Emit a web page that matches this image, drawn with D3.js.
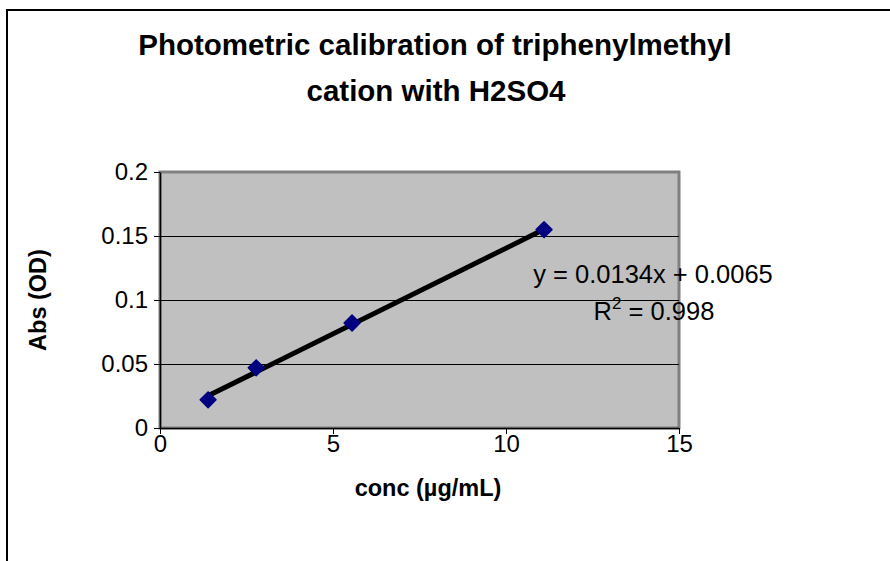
<!DOCTYPE html>
<html>
<head>
<meta charset="utf-8">
<script src="https://cdn.jsdelivr.net/npm/d3@7"></script>
<style>
  html, body { margin: 0; padding: 0; background: #fff; }
  svg { display: block; font-family: "Liberation Sans", Arial, sans-serif; }
</style>
</head>
<body>
<svg id="chart" width="890" height="561"></svg>
<script>
// Calibration measurements
const concentrations = [1.39, 2.78, 5.55, 11.1];
const absorbances = [0.022, 0.047, 0.082, 0.155];
const xTicks = [0, 5, 10, 15];
const yTicks = [0, 0.05, 0.1, 0.15, 0.2];
const gridValues = [0.05, 0.1, 0.15];
// Linear fit reported for the series
const slope = 0.0134;
const intercept = 0.0065;
const rSquared = "0.998";

const svg = d3.select("#chart");

// Outer chart frame
svg.append("rect")
  .attr("x", 7).attr("y", 10)
  .attr("width", 900).attr("height", 600)
  .attr("fill", "#fff").attr("stroke", "#000").attr("stroke-width", 2);

const plot = { left: 160, right: 679, top: 172, bottom: 428 };

const x = d3.scaleLinear().domain([0, 15]).range([plot.left, plot.right]);
const y = d3.scaleLinear().domain([0, 0.2]).range([plot.bottom, plot.top]);

// Plot area background and frame
svg.append("rect")
  .attr("x", plot.left).attr("y", plot.top)
  .attr("width", plot.right - plot.left).attr("height", plot.bottom - plot.top)
  .attr("fill", "#C0C0C0").attr("stroke", "#808080").attr("stroke-width", 3);

// Horizontal gridlines
svg.append("g").selectAll("line").data(gridValues).join("line")
  .attr("x1", plot.left).attr("x2", plot.right)
  .attr("y1", d => Math.round(y(d)) + 0.5).attr("y2", d => Math.round(y(d)) + 0.5)
  .attr("stroke", "#000").attr("stroke-width", 1);

// Axes
const yAxis = svg.append("g")
  .attr("transform", `translate(${plot.left},0)`)
  .call(d3.axisLeft(y).tickValues(yTicks).tickSize(6).tickSizeOuter(0).tickPadding(6)
    .tickFormat(d => d === 0 ? "0" : String(+d.toFixed(2))));
const xAxis = svg.append("g")
  .attr("transform", `translate(0,${plot.bottom})`)
  .call(d3.axisBottom(x).tickValues(xTicks).tickSize(6).tickSizeOuter(0).tickPadding(1));

[yAxis, xAxis].forEach(g => {
  g.select(".domain").attr("stroke", "#000").attr("stroke-width", 1.5);
  g.selectAll(".tick line").attr("stroke", "#000");
  g.selectAll("text").attr("font-size", 24).attr("fill", "#000")
    .attr("font-family", "Liberation Sans, Arial, sans-serif");
});

// Trendline across the measured range
const xMin = d3.min(concentrations), xMax = d3.max(concentrations);
svg.append("line")
  .attr("x1", x(xMin)).attr("y1", y(slope * xMin + intercept))
  .attr("x2", x(xMax)).attr("y2", y(slope * xMax + intercept))
  .attr("stroke", "#000").attr("stroke-width", 5);

// Data markers
const pts = concentrations.map((c, i) => ({ c, a: absorbances[i] }));
svg.append("g").selectAll("path").data(pts).join("path")
  .attr("transform", d => `translate(${x(d.c)},${y(d.a)})`)
  .attr("d", d3.symbol().type(d3.symbolDiamond2).size(160))
  .attr("fill", "#000080").attr("stroke", "#000080").attr("stroke-width", 1.5)
  .attr("stroke-linejoin", "round");

// Fit equation
svg.append("text")
  .attr("x", 653).attr("y", 283)
  .attr("text-anchor", "middle").attr("font-size", 25.5)
  .text(`y = ${slope}x + ${intercept}`);
const r2 = svg.append("text")
  .attr("x", 654).attr("y", 320)
  .attr("text-anchor", "middle").attr("font-size", 25.5);
r2.append("tspan").text("R");
r2.append("tspan").attr("dy", -11).attr("font-size", 17).text("2");
r2.append("tspan").attr("dy", 11).text(` = ${rSquared}`);

// Title
const title = svg.append("text")
  .attr("text-anchor", "middle").attr("font-size", 29.5).attr("font-weight", "bold");
title.append("tspan").attr("x", 435).attr("y", 55).text("Photometric calibration of triphenylmethyl");
title.append("tspan").attr("x", 436).attr("y", 101).text("cation with H2SO4");

// Axis titles
svg.append("text")
  .attr("transform", `translate(46,${(plot.top + plot.bottom) / 2}) rotate(-90)`)
  .attr("text-anchor", "middle").attr("font-size", 23.5).attr("font-weight", "bold")
  .text("Abs (OD)");
svg.append("text")
  .attr("x", 428).attr("y", 496)
  .attr("text-anchor", "middle").attr("font-size", 23.5).attr("font-weight", "bold")
  .text("conc (µg/mL)");
</script>
</body>
</html>
